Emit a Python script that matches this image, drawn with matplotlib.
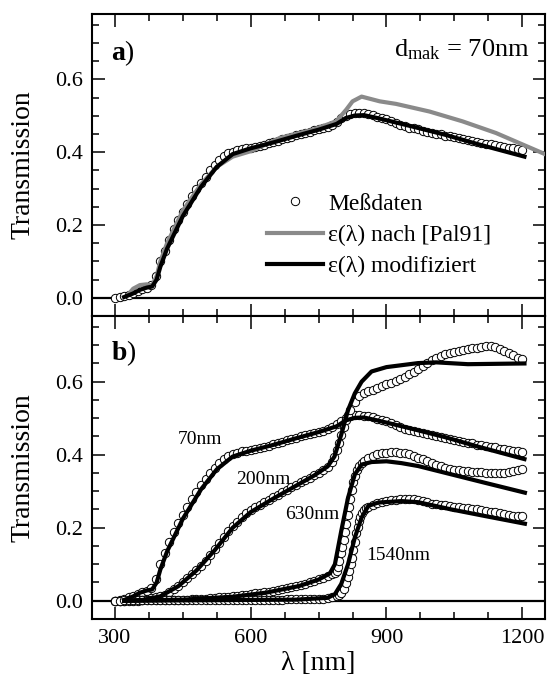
import matplotlib
matplotlib.use('Agg')
import matplotlib.pyplot as plt
from matplotlib.ticker import MultipleLocator

plt.rcParams['font.family'] = ['Liberation Serif', 'DejaVu Serif']
plt.rcParams['mathtext.fontset'] = 'custom'
plt.rcParams['mathtext.rm'] = 'Liberation Serif'
plt.rcParams['mathtext.it'] = 'Liberation Serif:italic'
plt.rcParams['mathtext.bf'] = 'Liberation Serif:bold'

# measured transmission, film thickness 70 nm
lam_70 = [300, 310, 320, 330, 340, 350, 360, 370, 380, 390, 400, 410, 420, 430, 440,
          450, 460, 470, 480, 490, 500, 510, 520, 530, 540, 550, 560, 570, 580, 590,
          600, 610, 620, 630, 640, 650, 660, 670, 680, 690, 700, 710, 720, 730, 740,
          750, 760, 770, 780, 790, 800, 810, 820, 830, 840, 850, 860, 870, 880, 890,
          900, 910, 920, 930, 940, 950, 960, 970, 980, 990, 1000, 1010, 1020, 1030, 1040,
          1050, 1060, 1070, 1080, 1090, 1100, 1110, 1120, 1130, 1140, 1150, 1160, 1170, 1180, 1190,
          1200]
T_70 = [0.000, 0.002, 0.005, 0.009, 0.013, 0.019, 0.024, 0.028, 0.034, 0.060, 0.100, 0.130, 0.160, 0.188, 0.213,
        0.235, 0.258, 0.280, 0.298, 0.316, 0.333, 0.350, 0.365, 0.378, 0.389, 0.397, 0.402, 0.406, 0.409, 0.411,
        0.413, 0.415, 0.418, 0.421, 0.425, 0.429, 0.432, 0.436, 0.439, 0.443, 0.447, 0.451, 0.454, 0.457, 0.460,
        0.463, 0.466, 0.470, 0.475, 0.483, 0.493, 0.500, 0.505, 0.508, 0.508, 0.507, 0.505, 0.502, 0.498, 0.495,
        0.492, 0.487, 0.481, 0.476, 0.471, 0.468, 0.466, 0.463, 0.459, 0.456, 0.454, 0.451, 0.449, 0.446, 0.444,
        0.441, 0.438, 0.436, 0.433, 0.431, 0.428, 0.426, 0.424, 0.422, 0.420, 0.417, 0.415, 0.413, 0.411, 0.409,
        0.407]

# measured, 200 nm
lam_200 = [300, 310, 320, 330, 340, 350, 360, 370, 380, 390, 400, 410, 420, 430, 440,
           450, 460, 470, 480, 490, 500, 510, 520, 530, 540, 550, 560, 570, 580, 590,
           600, 610, 620, 630, 640, 650, 660, 670, 680, 690, 700, 710, 720, 730, 740,
           750, 760, 770, 780, 785, 790, 795, 800, 805, 810, 815, 820, 830, 840, 850, 860, 870, 880, 890,
           900, 910, 920, 930, 940, 950, 960, 970, 980, 990, 1000, 1010, 1020, 1030, 1040,
           1050, 1060, 1070, 1080, 1090, 1100, 1110, 1120, 1130, 1140, 1150, 1160, 1170, 1180, 1190,
           1200]
T_200 = [0.000, 0.000, 0.000, 0.001, 0.001, 0.002, 0.003, 0.005, 0.007, 0.009, 0.012, 0.016, 0.023, 0.031, 0.040,
         0.050, 0.061, 0.072, 0.084, 0.096, 0.110, 0.125, 0.141, 0.158, 0.175, 0.190, 0.204, 0.217, 0.229, 0.239,
         0.248, 0.256, 0.263, 0.270, 0.277, 0.283, 0.290, 0.297, 0.304, 0.311, 0.318, 0.325, 0.331, 0.337, 0.344,
         0.350, 0.357, 0.366, 0.380, 0.393, 0.412, 0.432, 0.455, 0.475, 0.495, 0.510, 0.522, 0.545, 0.560, 0.568, 0.574, 0.578, 0.583, 0.588,
         0.593, 0.597, 0.603, 0.608, 0.613, 0.620, 0.627, 0.634, 0.643, 0.652, 0.660, 0.666, 0.671, 0.675, 0.679,
         0.682, 0.685, 0.687, 0.689, 0.691, 0.693, 0.695, 0.697, 0.697, 0.694, 0.689, 0.684, 0.678, 0.672, 0.666,
         0.662]

# measured, 630 nm
lam_630 = [300, 310, 320, 330, 340, 350, 360, 370, 380, 390, 400, 410, 420, 430, 440,
           450, 460, 470, 480, 490, 500, 510, 520, 530, 540, 550, 560, 570, 580, 590,
           600, 610, 620, 630, 640, 650, 660, 670, 680, 690, 700, 710, 720, 730, 740,
           750, 760, 770, 780, 786, 790, 793, 796, 799, 802, 805, 808, 811, 814, 817, 820, 823, 826, 830, 835,
           840, 845, 850, 860, 870, 880, 890, 900, 910, 920, 930, 940, 950, 960, 970, 980, 990, 1000,
           1010, 1020, 1030, 1040, 1050, 1060, 1070, 1080, 1090, 1100, 1110, 1120, 1130, 1140, 1150,
           1160, 1170, 1180, 1190, 1200]
T_630 = [0.000, 0.000, 0.000, 0.000, 0.000, 0.000, 0.001, 0.001, 0.001, 0.001, 0.001, 0.002, 0.002, 0.002, 0.002,
         0.003, 0.003, 0.004, 0.005, 0.006, 0.006, 0.007, 0.008, 0.009, 0.010, 0.011, 0.012, 0.013, 0.015, 0.016,
         0.018, 0.020, 0.021, 0.023, 0.025, 0.027, 0.029, 0.032, 0.034, 0.037, 0.040, 0.043, 0.047, 0.051, 0.055,
         0.059, 0.063, 0.068, 0.073, 0.077, 0.082, 0.092, 0.110, 0.130, 0.147, 0.166, 0.188, 0.210, 0.234, 0.257, 0.280, 0.303, 0.325, 0.343, 0.358,
         0.368, 0.377, 0.384, 0.392, 0.397, 0.401, 0.404, 0.406, 0.407, 0.407, 0.406, 0.404, 0.401, 0.397, 0.392, 0.387, 0.382, 0.377,
         0.372, 0.368, 0.364, 0.361, 0.359, 0.357, 0.356, 0.355, 0.354, 0.353, 0.352, 0.351, 0.350, 0.350, 0.350,
         0.351, 0.353, 0.355, 0.358, 0.362]

# measured, 1540 nm
lam_1540 = [300, 310, 320, 330, 340, 350, 360, 370, 380, 390, 400, 410, 420, 430, 440,
            450, 460, 470, 480, 490, 500, 510, 520, 530, 540, 550, 560, 570, 580, 590,
            600, 610, 620, 630, 640, 650, 660, 670, 680, 690, 700, 710, 720, 730, 740,
            750, 760, 770, 780, 790, 795, 800, 805, 810, 815, 818, 821, 824, 827, 830, 833, 836, 839, 842, 846,
            850, 855, 860, 870, 880, 890, 900, 910, 920, 930, 940, 950, 960, 970, 980, 990, 1000,
            1010, 1020, 1030, 1040, 1050, 1060, 1070, 1080, 1090, 1100, 1110, 1120, 1130, 1140, 1150,
            1160, 1170, 1180, 1190, 1200]
T_1540 = [0.000, 0.000, 0.001, 0.001, 0.001, 0.001, 0.001, 0.001, 0.001, 0.001, 0.001, 0.001, 0.001, 0.001, 0.001,
          0.001, 0.002, 0.002, 0.002, 0.002, 0.002, 0.002, 0.002, 0.002, 0.002, 0.002, 0.002, 0.002, 0.003, 0.003,
          0.003, 0.003, 0.003, 0.003, 0.003, 0.003, 0.003, 0.003, 0.004, 0.004, 0.004, 0.004, 0.004, 0.005, 0.005,
          0.005, 0.006, 0.007, 0.009, 0.012, 0.015, 0.020, 0.032, 0.048, 0.066, 0.082, 0.100, 0.118, 0.140, 0.162, 0.185, 0.202, 0.218, 0.230, 0.240,
          0.248, 0.254, 0.258, 0.263, 0.267, 0.270, 0.273, 0.275, 0.277, 0.278, 0.279, 0.279, 0.278, 0.276, 0.273, 0.270, 0.266,
          0.264, 0.262, 0.261, 0.260, 0.258, 0.256, 0.255, 0.254, 0.252, 0.250, 0.248, 0.246, 0.244, 0.242, 0.240,
          0.238, 0.236, 0.233, 0.231, 0.233]

# eps(lambda) after [Pal91], 70 nm
lam_pal = [330, 340, 355, 370, 382, 392, 400, 415, 450, 490, 525, 560, 600, 664, 737,
           789, 811, 825, 845, 885, 921, 995, 1068, 1142, 1252]
T_pal = [0.010, 0.025, 0.035, 0.037, 0.034, 0.060, 0.100, 0.150, 0.240, 0.312, 0.360, 0.388, 0.403, 0.439, 0.462,
         0.485, 0.517, 0.540, 0.553, 0.540, 0.533, 0.512, 0.485, 0.453, 0.394]

# eps(lambda) modified, fits
lam_fit_70 = [320, 340, 355, 370, 382, 392, 400, 415, 450, 490, 525, 560, 600, 650, 700,
              750, 790, 810, 830, 850, 880, 950, 1030, 1100, 1205]
T_fit_70 = [0.002, 0.012, 0.022, 0.028, 0.031, 0.050, 0.085, 0.135, 0.225, 0.305, 0.360, 0.395, 0.411, 0.427, 0.445,
            0.462, 0.478, 0.494, 0.501, 0.502, 0.494, 0.473, 0.448, 0.423, 0.388]
lam_fit_200 = [320, 360, 400, 440, 480, 520, 560, 600, 650, 700, 740, 770, 785, 800, 815,
               830, 845, 867, 900, 970, 1010, 1080, 1205]
T_fit_200 = [0.000, 0.002, 0.012, 0.040, 0.083, 0.138, 0.200, 0.243, 0.280, 0.315, 0.343, 0.368, 0.395, 0.455, 0.522,
             0.568, 0.600, 0.628, 0.640, 0.651, 0.653, 0.648, 0.650]
lam_fit_630 = [320, 450, 560, 633, 706, 750, 775, 786, 800, 815, 830, 845, 867, 900, 933,
               970, 1044, 1118, 1206]
T_fit_630 = [0.000, 0.003, 0.011, 0.022, 0.040, 0.058, 0.075, 0.100, 0.191, 0.282, 0.346, 0.373, 0.380, 0.382, 0.377,
             0.369, 0.346, 0.323, 0.296]
lam_fit_1540 = [320, 700, 770, 786, 800, 815, 830, 845, 860, 882, 933, 970, 1044, 1118, 1206]
T_fit_1540 = [0.000, 0.003, 0.008, 0.018, 0.046, 0.100, 0.173, 0.228, 0.260, 0.269, 0.273, 0.270, 0.250, 0.232, 0.211]

curve_labels = ['70nm', '200nm', '630nm', '1540nm']
label_pos = [(487, 0.443), (627, 0.333), (737, 0.237), (925, 0.123)]

GRAY = '#8a8a8a'
dot_style = dict(ls='none', marker='o', ms=6, mfc='white', mec='black', mew=0.7, zorder=2)


def style_axes(ax):
    ax.set_xlim(250, 1250)
    ax.set_ylim(-0.05, 0.78)
    ax.xaxis.set_major_locator(MultipleLocator(300))
    ax.xaxis.set_minor_locator(MultipleLocator(75))
    ax.yaxis.set_major_locator(MultipleLocator(0.2))
    ax.yaxis.set_minor_locator(MultipleLocator(0.05))
    ax.tick_params(which='both', direction='in', top=True, right=True, width=1.1, labelsize=16)
    ax.tick_params(which='major', length=9, pad=7)
    ax.tick_params(which='minor', length=5)
    ax.set_yticks([0.0, 0.2, 0.4, 0.6])
    ax.set_yticklabels(['0.0', '0.2', '0.4', '0.6'])
    for sp in ax.spines.values():
        sp.set_linewidth(1.5)
    ax.axhline(0, color='black', lw=1.6, zorder=1)
    ax.set_ylabel('Transmission', fontsize=20)
    ax.yaxis.set_label_coords(-0.125, 0.5)


fig = plt.figure(figsize=(5.47, 6.8), dpi=100)
ax_a = fig.add_axes([0.169, 0.5353, 0.827, 0.4441])
ax_b = fig.add_axes([0.169, 0.0897, 0.827, 0.4456])

# panel a
style_axes(ax_a)
ax_a.tick_params(labelbottom=False)
ax_a.plot(lam_70, T_70, label='Meßdaten', **dot_style)
ax_a.plot(lam_pal, T_pal, color=GRAY, lw=3, zorder=3, label=r'ε(λ) nach [Pal91]')
ax_a.plot(lam_fit_70, T_fit_70, color='black', lw=3, zorder=4, label=r'ε(λ) modifiziert')
ax_a.text(0.042, 0.871, r'$\mathbf{a}$)', transform=ax_a.transAxes, fontsize=20, va='center')
ax_a.text(0.967, 0.859, r'd$_{\mathrm{mak}}$ = 70nm', transform=ax_a.transAxes, fontsize=19,
          ha='right', va='baseline')
ax_a.legend(loc='upper left', bbox_to_anchor=(0.385, 0.407), frameon=False, fontsize=17,
            handlelength=2.4, handletextpad=0.2, labelspacing=0.42, borderpad=0, borderaxespad=0)

# panel b
style_axes(ax_b)
for lam, T in [(lam_70, T_70), (lam_200, T_200), (lam_630, T_630), (lam_1540, T_1540)]:
    ax_b.plot(lam, T, **dot_style)
for lam, T in [(lam_fit_70, T_fit_70), (lam_fit_200, T_fit_200),
               (lam_fit_630, T_fit_630), (lam_fit_1540, T_fit_1540)]:
    ax_b.plot(lam, T, color='black', lw=3, zorder=4)
for txt, (x, y) in zip(curve_labels, label_pos):
    ax_b.text(x, y, txt, fontsize=14, ha='center', va='center')
ax_b.text(0.042, 0.878, r'$\mathbf{b}$)', transform=ax_b.transAxes, fontsize=20, va='center')
ax_b.set_xticks([300, 600, 900, 1200])
ax_b.set_xlabel('λ [nm]', fontsize=20, labelpad=2)

fig.savefig('out.png', dpi=100)
